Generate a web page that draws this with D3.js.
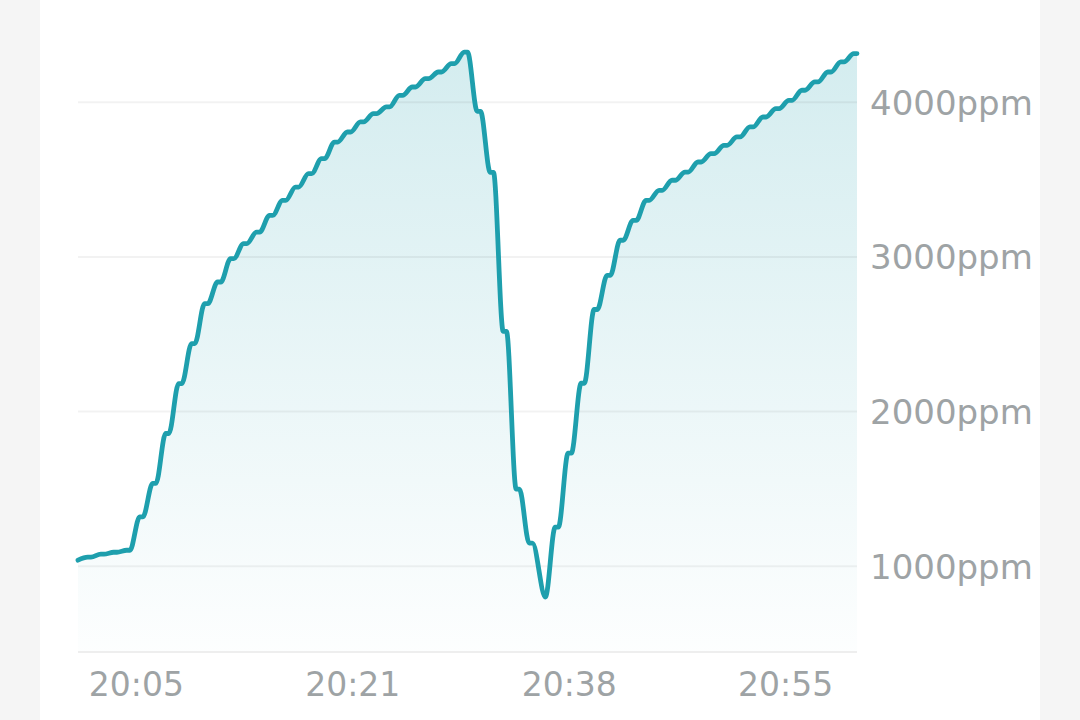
<!DOCTYPE html>
<meta charset="utf-8">
<script src="https://d3js.org/d3.v7.min.js"></script>
<style>
  body { margin: 0; background: #f5f5f5; }
  #panel { position: absolute; left: 40px; top: 0; width: 1000px; height: 720px; background: #fff; }
  .lbl { font-family: "DejaVu Sans", sans-serif; fill: #9ea3a5; }
</style>
<div id="panel"></div>
<div id="chart" style="position:absolute;left:0;top:0"></div>
<script>

// one CO2 reading per minute, starting 20:00:30
var startTime = "2024-01-01T20:00:30"
var ppm = [1039,1058,1078,1090,1103,1319,1535,1858,2181,2440,2698,2838,2989,
  3086,3161,3269,3366,3452,3539,3636,3743,3808,3873,3927,3970,4045,4099,4153,4196,4250,4325,
  3942,3547,2519,1498,1149,800,1252,1731,2183,2660,
  2881,3108,3237,3366,3431,3496,3549,3614,3668,3722,3776,3841,3905,3959,4013,4078,4132,4196,4261,4315]
var yTicks = [1000, 2000, 3000, 4000]
var xTicks = ["20:05:00", "20:21:40", "20:38:20", "20:55:00"]

var W = 1080, H = 720
var plot = {left: 78, right: 857, top: 25, bottom: 652}

var svg = d3.select("#chart").append("svg")
  .attr("width", W)
  .attr("height", H)

var t0 = new Date(startTime)
var times = ppm.map(function(d, i){ return new Date(t0.getTime() + i * 60000) })

// the sensor settles on each reading a little before it is logged
// (except at the dip, where it turns straight back up)
var hold = 15000
var pts = []
ppm.forEach(function(v, i){
  var isMin = i > 0 && i < ppm.length - 1 && v < ppm[i-1] && v < ppm[i+1]
  if (i > 0 && !isMin) pts.push({t: new Date(times[i].getTime() - hold), v: v})
  pts.push({t: times[i], v: v})
})

var x = d3.scaleTime()
  .domain(d3.extent(times))
  .range([plot.left, plot.right])

var y = d3.scaleLinear()
  .domain([445, 4500])
  .range([plot.bottom, plot.top])

// gradient under the line
var grad = svg.append("defs").append("linearGradient")
  .attr("id", "fade")
  .attr("gradientUnits", "userSpaceOnUse")
  .attr("x1", 0).attr("x2", 0)
  .attr("y1", plot.top).attr("y2", plot.bottom)
grad.append("stop").attr("offset", "0%").attr("stop-color", "#1e9fad").attr("stop-opacity", 0.2)
grad.append("stop").attr("offset", "100%").attr("stop-color", "#1e9fad").attr("stop-opacity", 0.01)

var curve = d3.curveMonotoneX

svg.append("path")
  .datum(pts)
  .attr("fill", "url(#fade)")
  .attr("d", d3.area()
    .curve(curve)
    .x(function(d){ return x(d.t) })
    .y0(plot.bottom)
    .y1(function(d){ return y(d.v) }))

// grid lines
svg.selectAll(".grid")
  .data(yTicks)
  .enter()
  .append("line")
    .attr("x1", plot.left)
    .attr("x2", plot.right)
    .attr("y1", function(d){ return y(d) })
    .attr("y2", function(d){ return y(d) })
    .attr("stroke", "#000")
    .attr("stroke-opacity", 0.05)
    .attr("stroke-width", 2)

// bottom axis line
svg.append("line")
  .attr("x1", plot.left).attr("x2", plot.right)
  .attr("y1", plot.bottom).attr("y2", plot.bottom)
  .attr("stroke", "#eeeeee")
  .attr("stroke-width", 2)

svg.append("path")
  .datum(pts)
  .attr("fill", "none")
  .attr("stroke", "#1e9fad")
  .attr("stroke-width", 4.8)
  .attr("stroke-linejoin", "round")
  .attr("stroke-linecap", "round")
  .attr("d", d3.line()
    .curve(curve)
    .x(function(d){ return x(d.t) })
    .y(function(d){ return y(d.v) }))

// y labels on the right
svg.selectAll(".ylab")
  .data(yTicks)
  .enter()
  .append("text")
    .attr("class", "lbl")
    .attr("x", 870)
    .attr("y", function(d){ return y(d) + 12.5 })
    .attr("font-size", "34px")
    .text(function(d){ return d + "ppm" })

// x labels
var fmt = d3.timeFormat("%H:%M")
svg.selectAll(".xlab")
  .data(xTicks.map(function(s){ return new Date("2024-01-01T" + s) }))
  .enter()
  .append("text")
    .attr("class", "lbl")
    .attr("x", function(d){ return x(d) })
    .attr("y", 696)
    .attr("text-anchor", "middle")
    .attr("font-size", "33px")
    .text(function(d){ return fmt(d) })

</script>
